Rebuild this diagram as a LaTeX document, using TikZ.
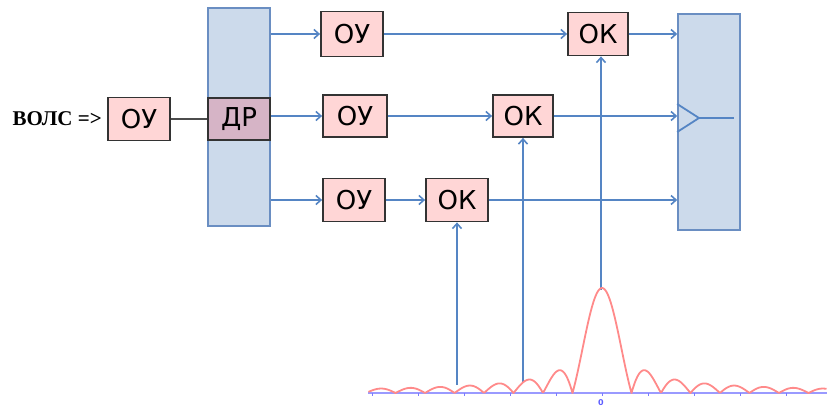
\documentclass[tikz,border=0pt]{standalone}
\usepackage{fontspec}
\setmainfont{DejaVu Sans}
\newfontfamily\serifb{Liberation Serif}
\usetikzlibrary{arrows.meta}

\definecolor{boxpink}{HTML}{FFD6D6}
\definecolor{drfill}{HTML}{D6B4C6}
\definecolor{panel}{HTML}{CCDAEB}
\definecolor{panelline}{HTML}{6A8EC2}
\definecolor{link}{HTML}{5585C4}
\definecolor{curve}{HTML}{FF8A8A}
\definecolor{axisblue}{HTML}{9A9AFF}

\tikzset{
  blk/.style={draw=black!80, line width=1.8pt, fill=boxpink, inner sep=0pt,
    minimum width=62pt, minimum height=43pt, font=\fontsize{26}{26}\selectfont},
  panelbox/.style={draw=panelline, line width=1.6pt, fill=panel, inner sep=0pt,
    minimum width=62pt},
  arr/.style={draw=link, line width=1.8pt, -{Straight Barb[length=5pt,width=9pt,line width=1.6pt]}},
  wire/.style={draw=link, line width=1.8pt},
}

\begin{document}
\begin{tikzpicture}[x=1pt, y=-1pt]
\useasboundingbox (0,0) rectangle (827,407);

% input stage
\node[anchor=east, inner sep=0pt, font=\serifb\bfseries\fontsize{21}{21}\selectfont] (lbl) at (102,119) {ВОЛС =>};
\node[blk] (ou0) at (139,119) {ОУ};

% splitter panel and combiner panel
\node[panelbox, minimum height=218pt] (demux) at (239,117) {};
\node[panelbox, minimum height=216pt] (mux) at (709,122) {};
\node[blk, fill=drfill, minimum height=42pt] (dr) at (239,119) {ДР};
\draw[black!70, line width=1.8pt] (ou0.east) -- (dr.west);

% amplifiers
\node[blk, minimum height=45pt] (ou1) at (352,34) {ОУ};
\node[blk, minimum width=64pt, minimum height=42pt] (ou2) at (355,116) {ОУ};
\node[blk] (ou3) at (354,200) {ОУ};

% correlators
\node[blk, minimum width=60pt] (ok1) at (598,34) {ОК};
\node[blk, minimum width=60pt, minimum height=42pt] (ok2) at (523,116) {ОК};
\node[blk] (ok3) at (457,200) {ОК};

% horizontal signal paths
\draw[arr] (demux.east |- ou1.west) -- (ou1.west);
\draw[arr] (demux.east |- ou2.west) -- (ou2.west);
\draw[arr] (demux.east |- ou3.west) -- (ou3.west);
\draw[arr] (ou1.east) -- (ok1.west);
\draw[arr] (ou2.east) -- (ok2.west);
\draw[arr] (ou3.east) -- (ok3.west);
\draw[arr] (ok1.east) -- (mux.west |- ok1.east);
\draw[arr] (ok2.east) -- (mux.west |- ok2.east);
\draw[arr] (ok3.east) -- (mux.west |- ok3.east);

% combiner symbol
\coordinate (tipc) at (699,118);
\coordinate (outc) at (734,118);
\draw[wire, line join=miter] (mux.west |- 0,104) -- (tipc) -- (mux.west |- 0,132);
\draw[wire] (tipc) -- (outc);

% reference taps from the correlation function
\coordinate (t3) at (457,385);
\coordinate (t2) at (523,382);
\coordinate (t1) at (601,290);
\draw[arr] (t3) -- (ok3.south);
\draw[arr] (t2) -- (t2 |- ok2.south);
\draw[arr] (t1) -- (t1 |- ok1.south);

% axis
\coordinate (ax0) at (368,393);
\coordinate (ax1) at (827,393);
\draw[axisblue, line width=2pt] (ax0) -- (ax1);
\foreach \tx in {372,418,464,510,556,602,648,694,740,786}
  \draw[axisblue!80!blue, line width=1pt] (\tx,393) -- (\tx,396);
\node[text=axisblue!60!blue, font=\bfseries\fontsize{8}{8}\selectfont, inner sep=0pt] (zero) at (601,403) {0};

% |sinc| correlation curve (samples fall half a unit off the centre)
\draw[curve, line width=1.8pt, line join=round]
  plot[domain=368.5:826.5, samples=459]
  (\x, {393-105*abs(sin((\x-602)/29.5*180)/(pi*(\x-602)/29.5))});
\end{tikzpicture}
\end{document}
